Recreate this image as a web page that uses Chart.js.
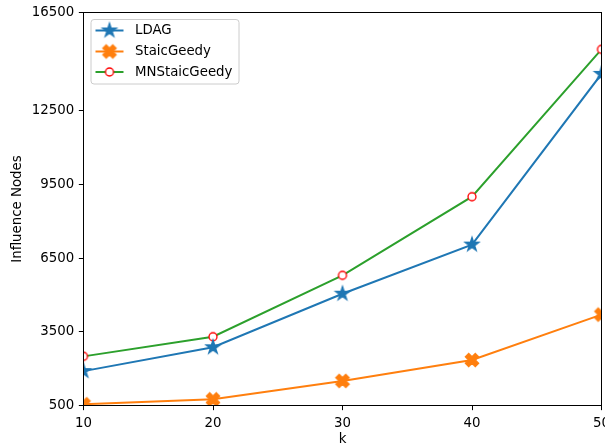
<!DOCTYPE html>
<html>
<head>
<meta charset="utf-8">
<script src="https://cdn.jsdelivr.net/npm/chart.js@4/dist/chart.umd.min.js"></script>
<style>
  html, body { margin: 0; padding: 0; background: #ffffff; }
  canvas { display: block; }
</style>
</head>
<body>
<canvas id="chart" width="605" height="448"></canvas>
<script>
// Seed-set size k on the x axis
const kValues = [10, 20, 30, 40, 50];

// Influenced nodes for each algorithm
const ldagValues = [1900, 2870, 5050, 7050, 14000];
const staicGeedyValues = [550, 750, 1500, 2350, 4200];
const mnStaicGeedyValues = [2500, 3300, 5800, 9000, 15000];

// Axis tick values
const xTickValues = [10, 20, 30, 40, 50];
const yTickValues = [500, 3500, 6500, 9500, 12500, 16500];

const seriesNames = ['LDAG', 'StaicGeedy', 'MNStaicGeedy'];

const FONT = "'DejaVu Sans', sans-serif";
const FONT_SIZE = 13.33;
const PLOT_RIGHT_GAP = 3.5;

// ---- marker sprites (filled star, filled X, hollow circle) ----
function makeSprite(size, drawFn) {
  const c = document.createElement('canvas');
  c.width = size; c.height = size;
  const g = c.getContext('2d');
  g.translate(size / 2, size / 2);
  drawFn(g);
  return c;
}

function starSprite(color) {
  return makeSprite(20, g => {
    const R = 7.2, r = R * 0.381966;
    g.beginPath();
    for (let i = 0; i < 10; i++) {
      const rad = i % 2 === 0 ? R : r;
      const th = -Math.PI / 2 + i * Math.PI / 5;
      const x = rad * Math.cos(th), y = rad * Math.sin(th);
      if (i === 0) g.moveTo(x, y); else g.lineTo(x, y);
    }
    g.closePath();
    g.fillStyle = color; g.fill();
    g.strokeStyle = color; g.lineWidth = 1.33; g.lineJoin = 'miter'; g.stroke();
  });
}

function xSprite(color) {
  return makeSprite(20, g => {
    const s = 14 / 6;
    const pts = [[-1,-3],[1,-3],[1,-1],[3,-1],[3,1],[1,1],[1,3],[-1,3],[-1,1],[-3,1],[-3,-1],[-1,-1]];
    g.rotate(Math.PI / 4);
    g.beginPath();
    pts.forEach((p, i) => { const x = p[0] * s, y = p[1] * s; if (i === 0) g.moveTo(x, y); else g.lineTo(x, y); });
    g.closePath();
    g.fillStyle = color; g.fill();
    g.strokeStyle = color; g.lineWidth = 1.33; g.lineJoin = 'miter'; g.stroke();
  });
}

function circleSprite(edge, face) {
  return makeSprite(12, g => {
    g.beginPath();
    g.arc(0, 0, 4, 0, Math.PI * 2);
    g.fillStyle = face; g.fill();
    g.strokeStyle = edge; g.lineWidth = 1.33; g.stroke();
  });
}

const seriesStyles = [
  { line: '#1f77b4', sprite: starSprite('#1f77b4') },
  { line: '#ff7f0e', sprite: xSprite('#ff7f0e') },
  { line: '#2ca02c', sprite: circleSprite('#ff0000', '#ffffff') }
];

const seriesValues = [ldagValues, staicGeedyValues, mnStaicGeedyValues];

const datasets = seriesNames.map((name, i) => ({
  label: name,
  data: kValues.map((k, j) => ({ x: k, y: seriesValues[i][j] })),
  borderColor: seriesStyles[i].line,
  backgroundColor: seriesStyles[i].line,
  borderWidth: 2,
  pointStyle: seriesStyles[i].sprite,
  pointRadius: 6,
  tension: 0,
  clip: 0
}));

const noPadding = () => ({ left: 0, top: 0, right: 0, bottom: 0 });

// Let the plot run to the right edge; the last x label may overhang the canvas
const plotExtent = {
  id: 'plotExtent',
  afterLayout(chart) {
    const xs = chart.scales.x;
    const right = chart.width - PLOT_RIGHT_GAP;
    chart.chartArea.right = right;
    chart.chartArea.width = right - chart.chartArea.left;
    xs.right = right;
    xs.width = right - xs.left;
    xs.configure();
  }
};

// Full axes frame, in-plot legend and axis titles
const framePlugin = {
  id: 'framePlugin',
  afterDatasetsDraw(chart) {
    const { ctx, chartArea: a } = chart;
    ctx.save();
    ctx.strokeStyle = '#000000';
    ctx.lineWidth = 1;
    ctx.strokeRect(a.left, a.top, a.right - a.left, a.bottom - a.top);

    // legend box
    const bx = 91, by = 19.5, bw = 148, bh = 64.5, br = 3;
    ctx.beginPath();
    ctx.moveTo(bx + br, by);
    ctx.lineTo(bx + bw - br, by);
    ctx.arcTo(bx + bw, by, bx + bw, by + br, br);
    ctx.lineTo(bx + bw, by + bh - br);
    ctx.arcTo(bx + bw, by + bh, bx + bw - br, by + bh, br);
    ctx.lineTo(bx + br, by + bh);
    ctx.arcTo(bx, by + bh, bx, by + bh - br, br);
    ctx.lineTo(bx, by + br);
    ctx.arcTo(bx, by, bx + br, by, br);
    ctx.closePath();
    ctx.fillStyle = 'rgba(255,255,255,0.8)';
    ctx.fill();
    ctx.strokeStyle = '#cccccc';
    ctx.lineWidth = 1;
    ctx.stroke();

    const rows = [30.5, 51.5, 72];
    chart.data.datasets.forEach((ds, i) => {
      const y = rows[i];
      ctx.beginPath();
      ctx.moveTo(95.5, y);
      ctx.lineTo(123.5, y);
      ctx.strokeStyle = ds.borderColor;
      ctx.lineWidth = 2;
      ctx.stroke();
      const sp = ds.pointStyle;
      ctx.drawImage(sp, 109.5 - sp.width / 2, y - sp.height / 2);
      ctx.fillStyle = '#000000';
      ctx.font = FONT_SIZE + 'px ' + FONT;
      ctx.textAlign = 'left';
      ctx.textBaseline = 'middle';
      ctx.fillText(ds.label, 135, y + 0.5);
    });

    // axis titles
    ctx.fillStyle = '#000000';
    ctx.font = FONT_SIZE + 'px ' + FONT;
    ctx.textAlign = 'center';
    ctx.textBaseline = 'middle';
    ctx.fillText('k', (a.left + a.right) / 2, 440);
    ctx.translate(18, (a.top + a.bottom) / 2);
    ctx.rotate(-Math.PI / 2);
    ctx.fillText('Influence Nodes', 0, 0);
    ctx.restore();
  }
};

new Chart(document.getElementById('chart'), {
  type: 'line',
  data: { datasets },
  plugins: [plotExtent, framePlugin],
  options: {
    responsive: false,
    animation: false,
    events: [],
    layout: { padding: { top: 12.5, right: PLOT_RIGHT_GAP, left: 0, bottom: 0 } },
    plugins: { legend: { display: false }, tooltip: { enabled: false } },
    scales: {
      x: {
        type: 'linear',
        min: 10,
        max: 50,
        afterBuildTicks(scale) { scale.ticks = xTickValues.map(v => ({ value: v })); },
        afterFit(scale) {
          scale.height = 42.5; scale.paddingLeft = 0; scale.paddingRight = 0;
          scale.getPadding = noPadding;
        },
        grid: { display: true, drawOnChartArea: false, drawTicks: true, tickLength: 4.67, tickWidth: 1, tickColor: '#000000' },
        border: { display: false },
        ticks: { color: '#000000', font: { family: FONT, size: FONT_SIZE }, padding: 5.5, maxRotation: 0,
                 callback: v => String(v) }
      },
      y: {
        type: 'linear',
        min: 500,
        max: 16500,
        afterBuildTicks(scale) { scale.ticks = yTickValues.map(v => ({ value: v })); },
        afterFit(scale) {
          scale.width = 83.5; scale.paddingTop = 0; scale.paddingBottom = 0;
          scale.getPadding = noPadding;
        },
        grid: { display: true, drawOnChartArea: false, drawTicks: true, tickLength: 4.67, tickWidth: 1, tickColor: '#000000' },
        border: { display: false },
        ticks: { color: '#000000', font: { family: FONT, size: FONT_SIZE }, padding: 4.67,
                 callback: v => String(v) }
      }
    }
  }
});
</script>
</body>
</html>
